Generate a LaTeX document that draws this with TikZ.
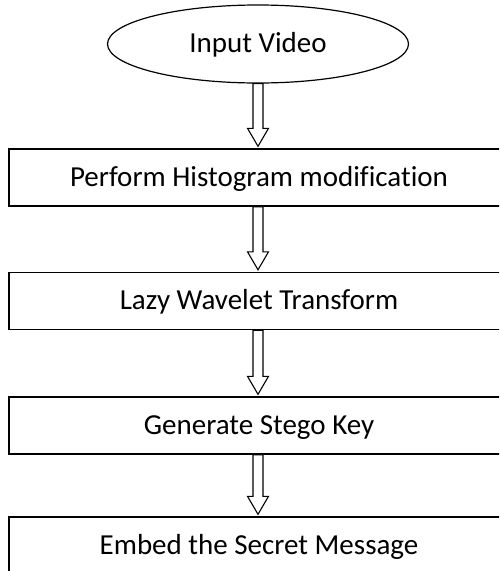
\documentclass[tikz,border=0pt]{standalone}
\usepackage{fontspec}
\setmainfont[Ligatures=NoCommon]{Carlito}
\usetikzlibrary{shapes.geometric,calc}

\tikzset{
	process/.style={draw, line width=1.4pt, rectangle, minimum width=500pt, minimum height=57pt,
		text height=24pt, text depth=7pt},
	hollowarrow/.style={draw, line width=1.1pt, fill=white, to path={let \p1=(\tikztostart), \p2=(\tikztotarget) in
		(\x1-5pt,\y1) -- (\x1-5pt,\y2+20pt) -- (\x1-10.5pt,\y2+20pt) -- (\x1,\y2+2pt)
		-- (\x1+10.5pt,\y2+20pt) -- (\x1+5pt,\y2+20pt) -- (\x1+5pt,\y1) -- cycle}}
}

\begin{document}
\begin{tikzpicture}[x=1pt, y=1pt, font=\fontsize{29}{34}\selectfont]
		\useasboundingbox (0,0) rectangle (499,-571);
		\clip (0,0) rectangle (499,-571);

		\node (video)[draw, line width=1.2pt, ellipse, minimum width=301pt, minimum height=78pt,
			text height=24pt, text depth=7pt] at (258,-44) {Input Video};
		\node (histogram)[process] at (259,-177.5) {Perform Histogram modification};
		\node (wavelet)[process] at (259,-301) {Lazy Wavelet Transform};
		\node (key)[process] at (259,-425.5) {Generate Stego Key};
		\node (embed)[process] at (259,-545.5) {Embed the Secret Message};

		\draw [hollowarrow](video.south) to ($(histogram.north)+(-1,0)$);
		\draw [hollowarrow]($(histogram.south)+(-1,0)$) to ($(wavelet.north)+(-1,0)$);
		\draw [hollowarrow]($(wavelet.south)+(-1,0)$) to ($(key.north)+(-1,0)$);
		\draw [hollowarrow]($(key.south)+(-1,0)$) to ($(embed.north)+(-1,0)$);
	\end{tikzpicture}
\end{document}
